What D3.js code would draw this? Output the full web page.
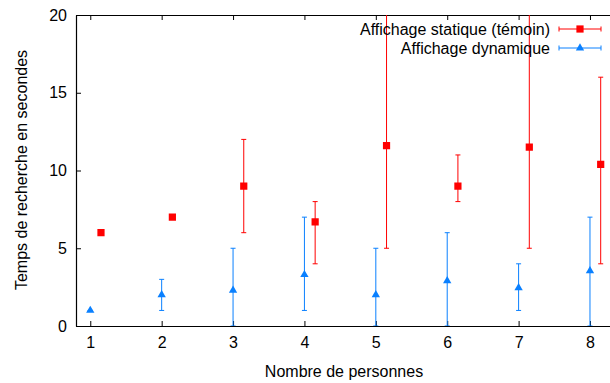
<!DOCTYPE html>
<html>
<head>
<meta charset="utf-8">
<script src="https://cdn.jsdelivr.net/npm/d3@7"></script>
<style>
  body { margin: 0; background: #fff; }
  svg { font-family: "Liberation Sans", Arial, sans-serif; }
</style>
</head>
<body>
<div id="chart"></div>
<script>
const categories = [1, 2, 3, 4, 5, 6, 7, 8];
const staticMean = [6, 7, 9, 6.7, 11.6, 9, 11.5, 10.4];
const staticLow  = [6, 7, 6, 4, 5, 8, 5, 4];
const staticHigh = [6, 7, 12, 8, 24, 11, 24, 16];
const dynMean = [1, 2, 2.3, 3.3, 2.0, 2.9, 2.45, 3.55];
const dynLow  = [1, 1, 0, 1, 0, 0, 1, 0];
const dynHigh = [1, 3, 5, 7, 5, 6, 4, 7];
const yTicks = [0, 5, 10, 15, 20];
const staticOffset = 0.15;

const w = 610, h = 383;
const red = '#ff0000', blue = '#0a80ff';
const fs = 16;

const xScale = d3.scaleLinear().domain([0.8, 8.3]).range([76, 611.4]);
const yScale = d3.scaleLinear().domain([0, 20]).range([326, 15]);

const svg = d3.select('#chart').append('svg')
  .attr('width', w)
  .attr('height', h);

svg.append('defs').append('clipPath').attr('id', 'plot')
  .append('rect')
  .attr('x', 76).attr('y', 15)
  .attr('width', 611.4 - 76).attr('height', 326 - 15);

// axes
const xAxis = d3.axisBottom(xScale).tickValues(categories).tickSizeInner(-5).tickSizeOuter(0).tickPadding(11);
const xTop = d3.axisTop(xScale).tickValues(categories).tickSizeInner(-5).tickSizeOuter(0).tickFormat('');
const yAxis = d3.axisLeft(yScale).tickValues(yTicks).tickSizeInner(-5).tickSizeOuter(0).tickPadding(9);

svg.append('g').attr('transform', 'translate(0,326)').call(xAxis);
svg.append('g').attr('transform', 'translate(0,15)').call(xTop);
svg.append('g').attr('transform', 'translate(76,0)').call(yAxis);

svg.selectAll('.tick text').attr('font-size', fs).attr('fill', '#000');
svg.selectAll('.domain').attr('stroke', '#000').attr('stroke-width', 1.2);
svg.selectAll('.tick line').attr('stroke', '#000');

svg.append('text')
  .attr('text-anchor', 'middle')
  .attr('transform', 'translate(27,170)rotate(-90)')
  .attr('font-size', fs)
  .text('Temps de recherche en secondes');

svg.append('text')
  .attr('text-anchor', 'middle')
  .attr('x', 344).attr('y', 377)
  .attr('font-size', fs)
  .text('Nombre de personnes');

// series
const series = [
  { name: 'Affichage statique (témoin)', mean: staticMean, low: staticLow, high: staticHigh, off: staticOffset, color: red, sym: d3.symbolSquare, size: 52 },
  { name: 'Affichage dynamique', mean: dynMean, low: dynLow, high: dynHigh, off: 0, color: blue, sym: d3.symbolTriangle, size: 30 }
];

const plot = svg.append('g').attr('clip-path', 'url(#plot)');
const cap = 2.5;

series.forEach(s => {
  const g = plot.append('g');
  const pts = categories.map((c, i) => ({ x: c + s.off, m: s.mean[i], lo: s.low[i], hi: s.high[i] }));
  g.selectAll('line.bar').data(pts).enter().append('line')
    .attr('x1', d => xScale(d.x)).attr('x2', d => xScale(d.x))
    .attr('y1', d => yScale(d.lo)).attr('y2', d => yScale(d.hi))
    .attr('stroke', s.color).attr('stroke-width', 1);
  ['lo', 'hi'].forEach(k => {
    g.selectAll('line.' + k).data(pts).enter().append('line')
      .attr('x1', d => xScale(d.x) - cap).attr('x2', d => xScale(d.x) + cap)
      .attr('y1', d => yScale(d[k])).attr('y2', d => yScale(d[k]))
      .attr('stroke', s.color).attr('stroke-width', 1);
  });
  g.selectAll('path').data(pts).enter().append('path')
    .attr('d', d3.symbol().type(s.sym).size(s.size))
    .attr('transform', d => `translate(${xScale(d.x)},${yScale(d.m)})`)
    .attr('fill', s.color);
});

// legend
const legend = svg.append('g');
series.forEach((s, i) => {
  const cy = 29 + i * 19;
  legend.append('text')
    .attr('x', 550).attr('y', cy + 6)
    .attr('text-anchor', 'end')
    .attr('font-size', fs)
    .text(s.name);
  legend.append('line').attr('x1', 559).attr('x2', 601).attr('y1', cy).attr('y2', cy)
    .attr('stroke', s.color);
  [559, 601].forEach(x => legend.append('line')
    .attr('x1', x).attr('x2', x).attr('y1', cy - cap).attr('y2', cy + cap)
    .attr('stroke', s.color));
  legend.append('path')
    .attr('d', d3.symbol().type(s.sym).size(s.size))
    .attr('transform', `translate(580,${cy})`)
    .attr('fill', s.color);
});
</script>
</body>
</html>
